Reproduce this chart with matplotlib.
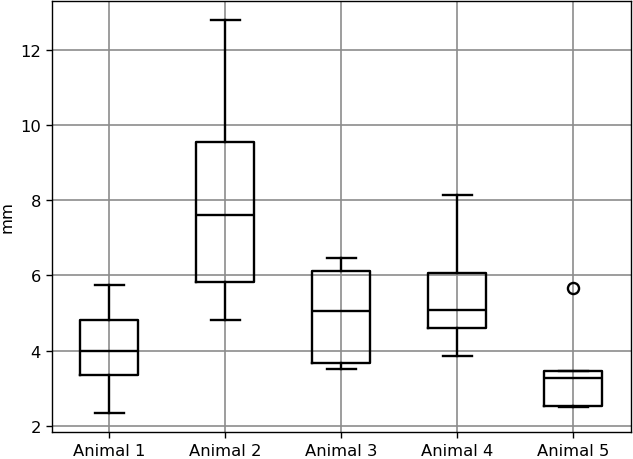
import matplotlib
matplotlib.use('Agg')
import matplotlib.pyplot as plt

# boxplot of measurements per animal
animals = ['Animal 1', 'Animal 2', 'Animal 3', 'Animal 4', 'Animal 5']
animal1 = [2.35, 3.34, 3.98, 4.80, 5.74]
animal2 = [4.82, 5.83, 7.60, 9.55, 12.78]
animal3 = [3.50, 3.67, 5.05, 6.11, 6.45]
animal4 = [3.85, 4.59, 5.07, 6.05, 8.14]
animal5 = [2.50, 2.54, 3.26, 3.45, 5.67]

data = [animal1, animal2, animal3, animal4, animal5]

plt.rcParams['font.size'] = 11.8
plt.rcParams['axes.linewidth'] = 1.0
plt.rcParams['xtick.major.size'] = 4.2
plt.rcParams['ytick.major.size'] = 4.2
plt.rcParams['xtick.major.width'] = 1.0
plt.rcParams['ytick.major.width'] = 1.0

fig = plt.figure(figsize=(6.33, 4.6), dpi=100)
ax = fig.add_axes([0.0814, 0.058, 0.9154, 0.9387])

lw = 1.7
ax.boxplot(data, widths=0.5,
           boxprops=dict(color='black', linewidth=lw),
           whiskerprops=dict(color='black', linewidth=lw),
           capprops=dict(color='black', linewidth=lw),
           medianprops=dict(color='black', linewidth=lw),
           flierprops=dict(marker='o', markerfacecolor='none',
                           markeredgecolor='black', markersize=8,
                           markeredgewidth=1.7))
ax.set_xticks(range(1, len(animals) + 1))
ax.set_xticklabels(animals)
ax.set_ylabel('mm')
ax.grid(True, color='#8c8c8c', linewidth=1.2)
ax.set_axisbelow(True)

fig.savefig('out.png', dpi=100)
